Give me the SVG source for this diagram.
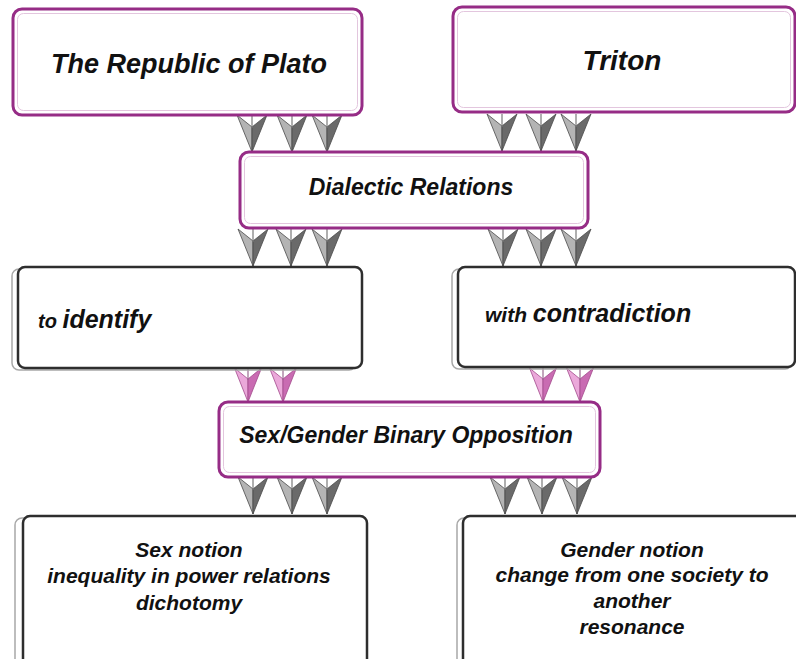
<svg xmlns="http://www.w3.org/2000/svg" xmlns:xlink="http://www.w3.org/1999/xlink" width="796" height="659" viewBox="0 0 796 659">
<style>
.pbox{fill:#fff;stroke:#962C86;stroke-width:3}
.pin{fill:none;stroke:#E3C6DE;stroke-width:1}
.dbox{fill:#fff;stroke:#2E2E2E;stroke-width:2.5}
.sh{fill:none;stroke:#A8A8A8;stroke-width:1.5}
text{font-family:"Liberation Sans",Arial,Helvetica,sans-serif;font-weight:bold;font-style:italic;fill:#111}
.stem{stroke:#7A7A7A;stroke-width:1.2}
.pstem{stroke:#A85A95;stroke-width:1.2}
</style>
<defs>
<g id="ga">
<path d="M-15,0 L0,12 L0,37 Z" fill="#B4B4B4" stroke="#4A4A4A" stroke-width="0.8" stroke-linejoin="round"/>
<path d="M15,0 L0,12 L0,37 Z" fill="#6A6A6A" stroke="#4A4A4A" stroke-width="0.8" stroke-linejoin="round"/>
<line x1="0" y1="0" x2="0" y2="13" stroke="#7A7A7A" stroke-width="1.2"/>
</g>
<g id="pa">
<path d="M-13.5,0 L0,11 L0,34 Z" fill="#EBA8DA" stroke="#A24A8C" stroke-width="0.8" stroke-linejoin="round"/>
<path d="M13.5,0 L0,11 L0,34 Z" fill="#C96BB2" stroke="#A24A8C" stroke-width="0.8" stroke-linejoin="round"/>
<line x1="0" y1="0" x2="0" y2="12" stroke="#9A6A90" stroke-width="1.2"/>
</g>
</defs>
<rect width="796" height="659" fill="#fff"/>

<g id="connectors">
<use xlink:href="#ga" href="#ga" x="252" y="115"/>
<use xlink:href="#ga" href="#ga" x="292" y="115"/>
<use xlink:href="#ga" href="#ga" x="327" y="115"/>
<use xlink:href="#ga" href="#ga" x="502" y="114"/>
<use xlink:href="#ga" href="#ga" x="541" y="114"/>
<use xlink:href="#ga" href="#ga" x="576" y="114"/>
<use xlink:href="#ga" href="#ga" x="253" y="229"/>
<use xlink:href="#ga" href="#ga" x="291" y="229"/>
<use xlink:href="#ga" href="#ga" x="327" y="229"/>
<use xlink:href="#ga" href="#ga" x="503" y="229"/>
<use xlink:href="#ga" href="#ga" x="541" y="229"/>
<use xlink:href="#ga" href="#ga" x="576" y="229"/>
<use xlink:href="#pa" href="#pa" x="248" y="368"/>
<use xlink:href="#pa" href="#pa" x="283" y="368"/>
<use xlink:href="#pa" href="#pa" x="543" y="368"/>
<use xlink:href="#pa" href="#pa" x="580" y="368"/>
<use xlink:href="#ga" href="#ga" x="253" y="477"/>
<use xlink:href="#ga" href="#ga" x="292" y="477"/>
<use xlink:href="#ga" href="#ga" x="327" y="477"/>
<use xlink:href="#ga" href="#ga" x="505" y="477"/>
<use xlink:href="#ga" href="#ga" x="542" y="477"/>
<use xlink:href="#ga" href="#ga" x="577" y="477"/>
</g>

<g id="republic">
<rect class="pbox" x="13" y="9" width="349" height="106" rx="9"/>
<rect class="pin" x="17.5" y="13.5" width="340" height="97" rx="6"/>
<text x="189" y="73" font-size="27" text-anchor="middle">The Republic of Plato</text>
</g>

<g id="triton">
<rect class="pbox" x="453" y="7" width="342" height="105" rx="9"/>
<rect class="pin" x="457.5" y="11.5" width="333" height="96" rx="6"/>
<text x="622" y="70" font-size="28" text-anchor="middle">Triton</text>
</g>

<g id="dialectic">
<rect class="pbox" x="240" y="152" width="348" height="76" rx="9"/>
<rect class="pin" x="244.5" y="156.5" width="339" height="67" rx="6"/>
<text x="411" y="195" font-size="23" text-anchor="middle">Dialectic Relations</text>
</g>

<g id="identify">
<rect class="sh" x="12" y="269" width="344" height="101" rx="7"/>
<rect class="dbox" x="18" y="267" width="344" height="101" rx="7"/>
<text x="38" y="328"><tspan font-size="20">to </tspan><tspan font-size="25">identify</tspan></text>
</g>

<g id="contradiction">
<rect class="sh" x="452" y="269" width="340" height="100" rx="7"/>
<rect class="dbox" x="458" y="267" width="337" height="100" rx="7"/>
<text x="485" y="322"><tspan font-size="21">with </tspan><tspan font-size="25">contradiction</tspan></text>
</g>

<g id="binary">
<rect class="pbox" x="219" y="402" width="381" height="75" rx="9"/>
<rect class="pin" x="223.5" y="406.5" width="372" height="66" rx="6"/>
<text x="406" y="443" font-size="23" text-anchor="middle">Sex/Gender Binary Opposition</text>
</g>

<g id="sexnotion">
<rect class="sh" x="15" y="518" width="344" height="150" rx="7"/>
<rect class="dbox" x="23" y="516" width="344" height="150" rx="7"/>
<text font-size="21" text-anchor="middle"><tspan x="189" y="557">Sex notion</tspan><tspan x="189" y="583">inequality in power relations</tspan><tspan x="189" y="610">dichotomy</tspan></text>
</g>

<g id="gendernotion">
<rect class="sh" x="457" y="518" width="345" height="150" rx="7"/>
<rect class="dbox" x="463" y="516" width="340" height="150" rx="7"/>
<text font-size="21" text-anchor="middle"><tspan x="632" y="557">Gender notion</tspan><tspan x="632" y="582">change from one society to</tspan><tspan x="632" y="608">another</tspan><tspan x="632" y="634">resonance</tspan></text>
</g>
</svg>
